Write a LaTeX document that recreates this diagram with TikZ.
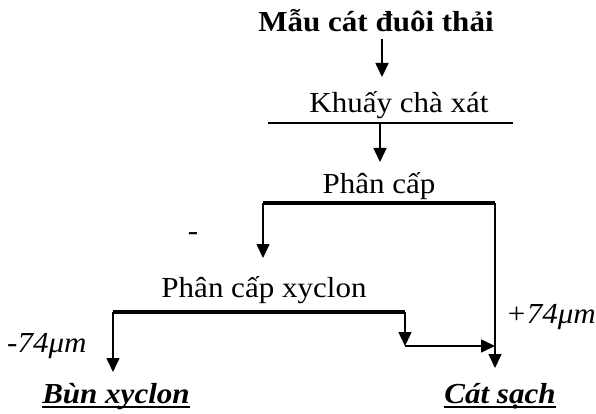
\documentclass[tikz,border=0pt]{standalone}
\usepackage{fontspec}
\setmainfont{Liberation Serif}[FakeStretch=1.07]
\usetikzlibrary{arrows.meta, positioning}

\begin{document}
\begin{tikzpicture}[x=1pt, y=-1pt, >={Triangle[length=14pt, width=13pt]},
  lbl/.style={font=\fontsize{29}{34}\selectfont, inner sep=0pt, anchor=base},
  flow/.style={->, line width=1.6pt},
  bar/.style={line width=2.8pt},
  heavybar/.style={line width=4.2pt}]
  \useasboundingbox (0,0) rectangle (596,414);
  % Feed and stirring
  \node[lbl, font=\fontsize{29}{34}\selectfont\bfseries] (sample) at (376,32) {Mẫu cát đuôi thải};
  \node[lbl] (stir) at (399,113) {Khuấy chà xát};
  \coordinate (sampleout) at (382,39);
  \coordinate (stirin) at (382,77);
  \coordinate (stirL) at (268,123);
  \coordinate (stirR) at (513,123);
  \coordinate (stirout) at (380,123);
  \draw[flow] (sampleout) -- (stirin);
  \draw[bar] (stirL) -- (stirR);
  % Classification
  \node[lbl] (classify) at (379,193) {Phân cấp};
  \coordinate (clsin) at (380,162);
  \coordinate (clsL) at (263,203);
  \coordinate (clsR) at (495,203);
  \draw[flow] (stirout) -- (clsin);
  \draw[heavybar] (clsL) -- (clsR);
  \node[lbl] (fine) at (193,240) {-};
  % Cyclone
  \node[lbl] (cyclone) at (264,297) {Phân cấp xyclon};
  \coordinate (cycin) at (263,258);
  \coordinate (cycL) at (113,312);
  \coordinate (cycR) at (405,312);
  \draw[flow] (clsL) -- (cycin);
  \draw[heavybar] (cycL) -- (cycR);
  \node[lbl, anchor=base west, font=\fontsize{29}{34}\selectfont\itshape] (minus) at (7,352) {-74μm};
  \node[lbl, anchor=base east, font=\fontsize{29}{34}\selectfont\itshape] (plus) at (596,323) {+74μm};
  % Products
  \node[lbl, font=\fontsize{29}{34}\selectfont\bfseries\itshape] (mud) at (116,403) {Bùn xyclon};
  \node[lbl, font=\fontsize{29}{34}\selectfont\bfseries\itshape] (sand) at (500,403) {Cát sạch};
  \draw[line width=1.6pt] ([yshift=-4pt]mud.base west) -- ([yshift=-4pt]mud.base east);
  \draw[line width=1.6pt] ([yshift=-4pt]sand.base west) -- ([yshift=-4pt]sand.base east);
  \coordinate (mudin) at (113,372);
  \coordinate (ovf) at (405,346);
  \coordinate (join) at (495,346);
  \coordinate (sandin) at (495,368);
  \draw[flow] (cycL) -- (mudin);
  \draw[flow] (cycR) -- (ovf);
  \draw[flow] (ovf) -- (join);
  \draw[flow] (clsR) -- (sandin);
\end{tikzpicture}
\end{document}
